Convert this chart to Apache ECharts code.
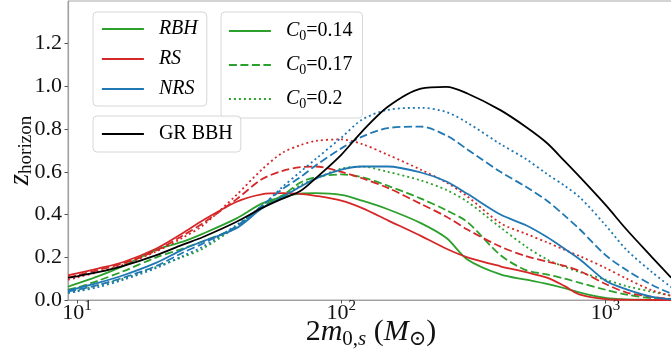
<!DOCTYPE html>
<html><head><meta charset="utf-8">
<script src="https://cdn.jsdelivr.net/npm/echarts@6/dist/echarts.min.js"></script>
<style>html,body{margin:0;padding:0;background:#fff}#c{width:671px;height:360px}</style>
</head><body><div id="c"></div>
<script>
// ---- data ----
const masses = [9.25, 10, 12, 15, 20, 25, 30, 40, 50, 60, 70, 80, 100, 120, 150, 200, 250, 300, 400, 500, 600, 700, 800, 1000, 1200, 1500, 1770];
const grBBH = [0.105, 0.111, 0.13, 0.16, 0.21, 0.258, 0.295, 0.365, 0.43, 0.475, 0.51, 0.57, 0.68, 0.79, 0.905, 0.99, 0.998, 0.967, 0.889, 0.81, 0.735, 0.65, 0.575, 0.445, 0.33, 0.20, 0.105];
const rbh14 = [0.062, 0.077, 0.111, 0.16, 0.236, 0.272, 0.311, 0.381, 0.451, 0.483, 0.498, 0.50, 0.492, 0.465, 0.425, 0.36, 0.29, 0.19, 0.12, 0.095, 0.075, 0.055, 0.035, 0.01, 0.003, 0.001, 0];
const rbh17 = [0.048, 0.058, 0.09, 0.135, 0.2, 0.24, 0.275, 0.34, 0.436, 0.49, 0.55, 0.575, 0.588, 0.575, 0.535, 0.475, 0.42, 0.365, 0.21, 0.14, 0.12, 0.10, 0.08, 0.048, 0.025, 0.008, 0.003];
const rbh20 = [0.033, 0.043, 0.068, 0.1, 0.155, 0.2, 0.241, 0.342, 0.43, 0.49, 0.537, 0.568, 0.615, 0.625, 0.60, 0.56, 0.515, 0.46, 0.34, 0.25, 0.19, 0.155, 0.13, 0.095, 0.065, 0.038, 0.02];
const rs14 = [0.115, 0.125, 0.147, 0.178, 0.241, 0.311, 0.373, 0.459, 0.495, 0.50, 0.497, 0.488, 0.465, 0.43, 0.373, 0.30, 0.24, 0.20, 0.158, 0.13, 0.105, 0.065, 0.025, 0.004, 0.001, 0, 0];
const rs17 = [0.105, 0.115, 0.14, 0.172, 0.232, 0.30, 0.36, 0.47, 0.565, 0.605, 0.622, 0.625, 0.60, 0.57, 0.525, 0.45, 0.39, 0.33, 0.25, 0.205, 0.18, 0.16, 0.135, 0.075, 0.035, 0.015, 0.005];
const rs20 = [0.095, 0.105, 0.13, 0.165, 0.228, 0.29, 0.35, 0.49, 0.61, 0.69, 0.725, 0.745, 0.752, 0.73, 0.68, 0.61, 0.55, 0.485, 0.36, 0.31, 0.27, 0.235, 0.205, 0.15, 0.10, 0.045, 0.02];
const nrs14 = [0.045, 0.055, 0.08, 0.116, 0.175, 0.235, 0.275, 0.335, 0.428, 0.483, 0.53, 0.568, 0.61, 0.625, 0.625, 0.597, 0.555, 0.497, 0.40, 0.35, 0.295, 0.24, 0.19, 0.09, 0.05, 0.015, 0.004];
const nrs17 = [0.04, 0.048, 0.07, 0.105, 0.16, 0.22, 0.265, 0.345, 0.44, 0.52, 0.575, 0.63, 0.71, 0.765, 0.805, 0.812, 0.77, 0.705, 0.6, 0.53, 0.465, 0.395, 0.33, 0.21, 0.14, 0.07, 0.03];
const nrs20 = [0.033, 0.04, 0.06, 0.095, 0.15, 0.205, 0.25, 0.35, 0.44, 0.53, 0.6, 0.66, 0.76, 0.845, 0.89, 0.9, 0.88, 0.83, 0.73, 0.66, 0.59, 0.535, 0.48, 0.35, 0.235, 0.13, 0.06];
const modelNames = ['RBH', 'RS', 'NRS'];
const c0Values = ['0.14', '0.17', '0.2'];
const grName = 'GR BBH';
const xTicks = [10, 100, 1000];
const yTicks = [0, 0.2, 0.4, 0.6, 0.8, 1.0, 1.2];

// ---- styling ----
const FONT = "'Liberation Serif', 'DejaVu Serif', serif";
const modelColors = {RBH: '#2ca02c', RS: '#d62728', NRS: '#1f77b4'};
const dashTypes = ['solid', [8, 3.5], [2, 3]];
const LW = 1.8;
const modelData = {RBH: [rbh14, rbh17, rbh20], RS: [rs14, rs17, rs20], NRS: [nrs14, nrs17, nrs20]};
const pairs = arr => masses.map((m, i) => [m, arr[i]]);

const series = [];
modelNames.forEach(mn => {
  c0Values.forEach((c, k) => {
    series.push({
      name: mn + ' C0=' + c, type: 'line', data: pairs(modelData[mn][k]),
      showSymbol: false, symbol: 'none', smooth: 0.3, clip: true,
      lineStyle: {color: modelColors[mn], width: LW, type: dashTypes[k]},
      itemStyle: {color: modelColors[mn]}, silent: true
    });
  });
});
series.push({
  name: grName, type: 'line', data: pairs(grBBH), showSymbol: false, symbol: 'none', smooth: 0.3,
  lineStyle: {color: '#000', width: LW}, itemStyle: {color: '#000'}, silent: true
});
// legend proxy entries (no data)
modelNames.forEach(mn => series.push({name: mn, type: 'line', data: [], symbol: 'none',
  lineStyle: {color: modelColors[mn], width: LW}, itemStyle: {color: modelColors[mn]}}));
c0Values.forEach((c, k) => series.push({name: 'C0=' + c, type: 'line', data: [], symbol: 'none',
  lineStyle: {color: modelColors.RBH, width: LW, type: dashTypes[k]}, itemStyle: {color: modelColors.RBH}}));

const legRich = {
  i: {fontFamily: FONT, fontStyle: 'italic', fontSize: 20, lineHeight: 20, verticalAlign: 'middle', color: '#000'},
  n: {fontFamily: FONT, fontSize: 20, lineHeight: 20, verticalAlign: 'middle', color: '#000'},
  s: {fontFamily: FONT, fontSize: 14, lineHeight: 20, verticalAlign: 'middle', color: '#000', padding: [10, 0, 0, 0]}
};
const legBase = {
  orient: 'vertical', itemWidth: 42, itemHeight: 14, itemGap: 10, selectedMode: false,
  backgroundColor: 'rgba(255,255,255,0.85)', borderColor: '#d6d6d6', borderWidth: 1, borderRadius: 4,
  textStyle: {fontFamily: FONT, fontSize: 20, lineHeight: 20, color: '#000', padding: [0, 0, 0, 10], rich: legRich}
};
const legItem = (name, color, type) => ({name, itemStyle: {opacity: 0},
  lineStyle: {color, width: LW, type, opacity: 1}});

const option = {
  animation: false,
  backgroundColor: '#fff',
  grid: {left: 68, top: 1, width: 606, height: 299, show: true, borderColor: '#a8a8a8', borderWidth: 1,
    backgroundColor: 'transparent', outerBoundsMode: 'none', containLabel: false},
  xAxis: {
    type: 'log', logBase: 10, min: 9.25, max: 1815,
    axisLine: {show: true, lineStyle: {color: '#a0a0a0', width: 1.2}},
    axisTick: {show: true, length: 3.5, lineStyle: {color: '#555'}, customValues: xTicks},
    axisLabel: {customValues: xTicks, margin: 2,
      formatter: v => '{b|10}{p|' + Math.round(Math.log10(v)) + '}',
      rich: {
        b: {fontFamily: FONT, fontSize: 22, lineHeight: 22, verticalAlign: 'middle', color: '#111'},
        p: {fontFamily: FONT, fontSize: 15, lineHeight: 22, verticalAlign: 'middle', color: '#111', padding: [0, 0, 13, 0]}
      }},
    splitLine: {show: false}, minorTick: {show: false},
    name: '{n|2}{i|m}{s|0,}{si|s}{n| (}{i|M}{s|⊙}{n|)}', nameLocation: 'middle', nameGap: 17,
    nameMoveOverlap: false,
    nameTextStyle: {rich: {
      n: {fontFamily: FONT, fontSize: 30, lineHeight: 30, verticalAlign: 'middle', color: '#111'},
      i: {fontFamily: FONT, fontStyle: 'italic', fontSize: 30, lineHeight: 30, verticalAlign: 'middle', color: '#111'},
      s: {fontFamily: FONT, fontSize: 21, lineHeight: 30, verticalAlign: 'middle', color: '#111', padding: [14, 0, 0, 0]},
      si: {fontFamily: FONT, fontStyle: 'italic', fontSize: 21, lineHeight: 30, verticalAlign: 'middle', color: '#111', padding: [14, 0, 0, 0]}
    }}
  },
  yAxis: {
    type: 'value', min: 0, max: 1.4, interval: 0.2,
    axisLine: {show: true, lineStyle: {color: '#a0a0a0', width: 1.2}},
    axisTick: {show: true, length: 3.5, lineStyle: {color: '#555'}, customValues: yTicks},
    axisLabel: {customValues: yTicks, margin: 6, fontFamily: FONT, fontSize: 22, color: '#111',
      formatter: v => v.toFixed(1)},
    splitLine: {show: false},
    name: '{i|z}{s|horizon}', nameLocation: 'middle', nameRotate: 90, nameGap: 34,
    nameMoveOverlap: false,
    nameTextStyle: {rich: {
      i: {fontFamily: FONT, fontStyle: 'italic', fontSize: 29, lineHeight: 28, verticalAlign: 'middle', color: '#111'},
      s: {fontFamily: FONT, fontSize: 19, lineHeight: 28, verticalAlign: 'middle', color: '#111', padding: [12, 0, 0, 0]}
    }}
  },
  legend: [
    Object.assign({}, legBase, {left: 93, top: 12, padding: [7, 9, 7, 8],
      data: modelNames.map(mn => legItem(mn, modelColors[mn], 'solid')),
      formatter: name => '{i|' + name + '}'}),
    Object.assign({}, legBase, {left: 221, top: 12, padding: [7, 10, 7, 7],
      data: c0Values.map((c, k) => legItem('C0=' + c, modelColors.RBH, dashTypes[k])),
      formatter: name => '{i|C}{s|0}{n|=' + name.slice(3) + '}'}),
    Object.assign({}, legBase, {left: 93, top: 116, padding: [8, 8, 8, 8],
      data: [legItem(grName, '#000', 'solid')],
      formatter: name => '{n|' + name + '}'})
  ],
  series
};
const chart = echarts.init(document.getElementById('c'), null, {renderer: 'canvas'});
chart.setOption(option);
</script>
</body></html>
